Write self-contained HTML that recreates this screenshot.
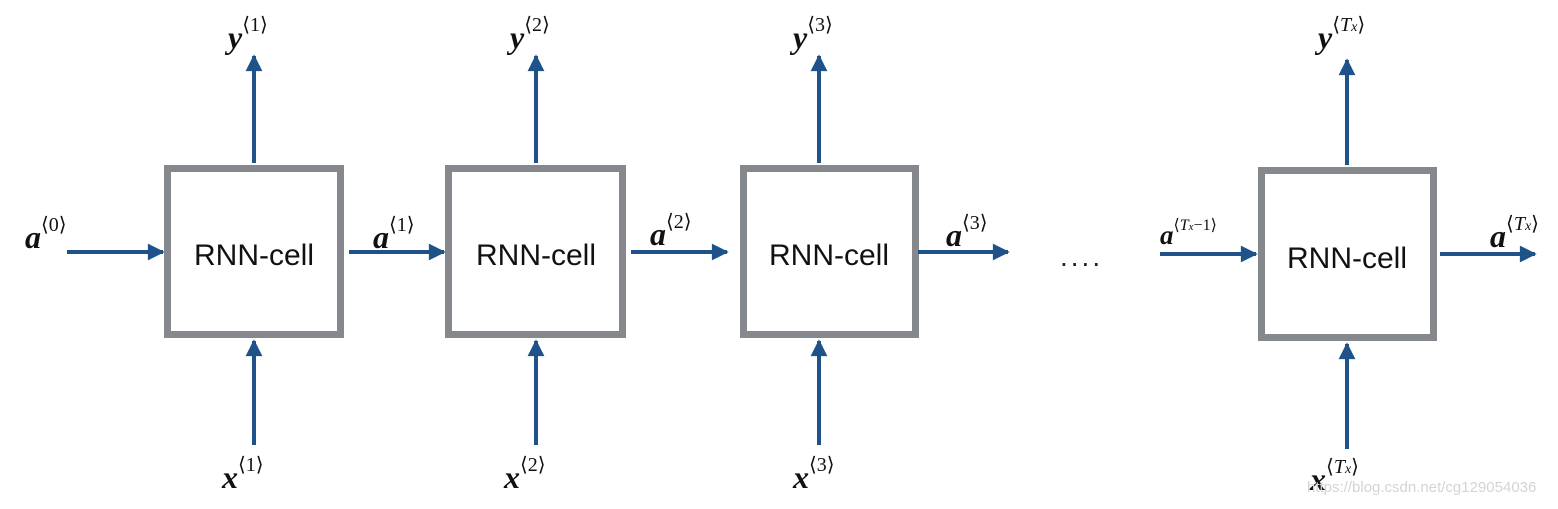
<!DOCTYPE html>
<html><head><style>body{margin:0;background:#fff}</style></head><body>
<svg width="1558" height="504" xmlns="http://www.w3.org/2000/svg">
<defs><marker id="ah" viewBox="0 0 10 10" refX="9" refY="5" markerWidth="4.5" markerHeight="4.2" orient="auto" markerUnits="strokeWidth"><path d="M0,0 L10,5 L0,10 z" fill="#1f5288"/></marker></defs>
<g fill="#fff" stroke="#85888c" stroke-width="7">
<rect x="167.5" y="168.5" width="173" height="166"/>
<rect x="448.5" y="168.5" width="174" height="166"/>
<rect x="743.5" y="168.5" width="172" height="166"/>
<rect x="1261.5" y="170.5" width="172" height="167"/>
</g>
<g stroke="#1f5288" stroke-width="4" marker-end="url(#ah)">
<line x1="254" y1="163" x2="254" y2="56"/><line x1="254" y1="445" x2="254" y2="341"/>
<line x1="536" y1="163" x2="536" y2="56"/><line x1="536" y1="445" x2="536" y2="341"/>
<line x1="819" y1="163" x2="819" y2="56"/><line x1="819" y1="445" x2="819" y2="341"/>
<line x1="1347" y1="165" x2="1347" y2="60"/><line x1="1347" y1="449" x2="1347" y2="344"/>
<line x1="67" y1="252" x2="163" y2="252"/>
<line x1="349" y1="252" x2="444" y2="252"/>
<line x1="631" y1="252" x2="727" y2="252"/>
<line x1="918" y1="252" x2="1008" y2="252"/>
<line x1="1160" y1="254" x2="1256" y2="254"/>
<line x1="1440" y1="254" x2="1535" y2="254"/>
</g>
<g font-family="Liberation Sans, sans-serif" font-size="30" fill="#111" text-anchor="middle">
<text x="254" y="265">RNN-cell</text><text x="536" y="265">RNN-cell</text>
<text x="829" y="265">RNN-cell</text><text x="1347" y="268">RNN-cell</text>
</g>
<text x="1060" y="266" font-family="Liberation Sans, sans-serif" font-size="28" fill="#222" letter-spacing="3">....</text>
<g font-family="Liberation Serif, serif" fill="#111" font-style="italic" font-weight="bold" font-size="32">
<text x="228" y="48">y<tspan font-size="20" font-weight="normal" font-style="normal" dy="-17">⟨1⟩</tspan></text>
<text x="510" y="48">y<tspan font-size="20" font-weight="normal" font-style="normal" dy="-17">⟨2⟩</tspan></text>
<text x="793" y="48">y<tspan font-size="20" font-weight="normal" font-style="normal" dy="-17">⟨3⟩</tspan></text>
<text x="1318" y="48">y<tspan font-size="20" font-weight="normal" font-style="normal" dy="-17">⟨<tspan font-style="italic">T<tspan font-size="14">x</tspan></tspan>⟩</tspan></text>
<text x="25" y="248">a<tspan font-size="20" font-weight="normal" font-style="normal" dy="-17">⟨0⟩</tspan></text>
<text x="373" y="248">a<tspan font-size="20" font-weight="normal" font-style="normal" dy="-17">⟨1⟩</tspan></text>
<text x="650" y="245">a<tspan font-size="20" font-weight="normal" font-style="normal" dy="-17">⟨2⟩</tspan></text>
<text x="946" y="246">a<tspan font-size="20" font-weight="normal" font-style="normal" dy="-17">⟨3⟩</tspan></text>
<text x="1160" y="244" font-size="27">a<tspan font-size="16" font-weight="normal" font-style="normal" dy="-14">⟨<tspan font-style="italic">T<tspan font-size="11">x</tspan></tspan>−1⟩</tspan></text>
<text x="1490" y="247">a<tspan font-size="20" font-weight="normal" font-style="normal" dy="-17">⟨<tspan font-style="italic">T<tspan font-size="14">x</tspan></tspan>⟩</tspan></text>
<text x="222" y="488">x<tspan font-size="20" font-weight="normal" font-style="normal" dy="-17">⟨1⟩</tspan></text>
<text x="504" y="488">x<tspan font-size="20" font-weight="normal" font-style="normal" dy="-17">⟨2⟩</tspan></text>
<text x="793" y="488">x<tspan font-size="20" font-weight="normal" font-style="normal" dy="-17">⟨3⟩</tspan></text>
<text x="1310" y="490">x<tspan font-size="20" font-weight="normal" font-style="normal" dy="-17">⟨<tspan font-style="italic">T<tspan font-size="14">x</tspan></tspan>⟩</tspan></text>
</g>
<text x="1307" y="492" font-family="Liberation Sans, sans-serif" font-size="15" fill="#d4d4d4">https://blog.csdn.net/cg129054036</text>
</svg>
</body></html>
